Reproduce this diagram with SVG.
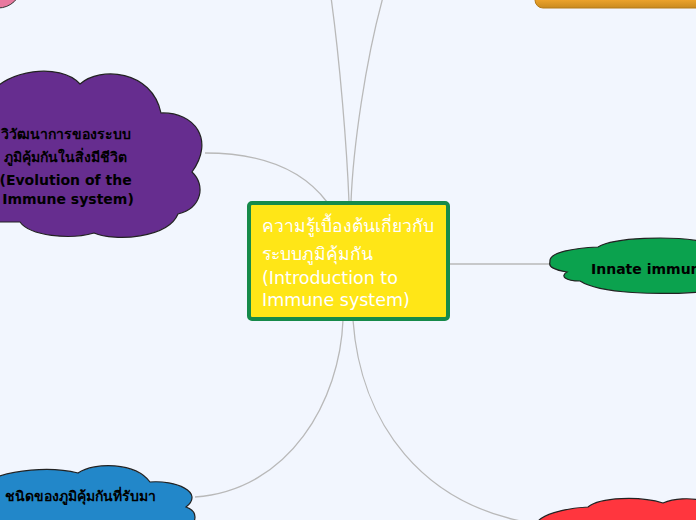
<svg xmlns="http://www.w3.org/2000/svg" width="696" height="520" viewBox="0 0 696 520">
<defs>
<style>
.bg{fill:#f2f6fe}
.conn{fill:none;stroke:#b9b9b9;stroke-width:1.3}
.cloud{stroke:#222;stroke-width:1.2}
.t{font-family:"DejaVu Sans","Noto Sans",sans-serif}
.b{font-weight:bold;font-size:14px;fill:#000}
.c{font-size:17.5px;fill:#fff}
</style>
<linearGradient id="og" x1="0" y1="0" x2="0" y2="1">
<stop offset="0" stop-color="#f6bd4c"/>
<stop offset="0.8" stop-color="#eaa12a"/>
<stop offset="1" stop-color="#c98a1e"/>
</linearGradient>
</defs>
<rect class="bg" x="0" y="0" width="696" height="520"/>
<g id="connectors">
<path class="conn" d="M349,202 C347,150 340,60 330,-10"/>
<path class="conn" d="M351,202 C353,150 365,60 385,-10"/>
<path class="conn" d="M205,153 Q290,153 327,202"/>
<path class="conn" d="M450,264 L549,264"/>
<path class="conn" d="M195,497 C290,490 340,400 343,320"/>
<path class="conn" d="M353,320 C360,420 420,510 545,525"/>
</g>
<g id="node-pink">
<ellipse cx="-2" cy="-14" rx="23" ry="22" fill="#e8799f" stroke="#333" stroke-width="1"/>
</g>
<g id="node-orange">
<rect x="535" y="-30" width="180" height="38" rx="8" fill="url(#og)" stroke="#b57a18" stroke-width="1"/>
</g>
<g id="node-evolution">
<path class="cloud" fill="#662d8f" d="M-10,95 C5,70 60,62 80,84 C100,66 152,70 161,113 C195,112 215,140 192,172 C206,185 202,208 178,214 C168,238 115,242 94,233 C70,240 30,236 20,222 L-10,222 Z"/>
<text class="t b" text-anchor="middle">
<tspan x="68" y="139">วิวัฒนาการของระบบ</tspan>
<tspan x="68" y="162">ภูมิคุ้มกันในสิ่งมีชีวิต</tspan>
<tspan x="68" y="185">(Evolution of the</tspan>
<tspan x="68" y="204">Immune system)</tspan>
</text>
</g>
<g id="node-central">
<rect x="249" y="203" width="199" height="116" rx="3" fill="#ffe617" stroke="#168a4a" stroke-width="4"/>
<text class="t c">
<tspan x="262" y="232">ความรู้เบื้องต้นเกี่ยวกับ</tspan>
<tspan x="262" y="260">ระบบภูมิคุ้มกัน</tspan>
<tspan x="262" y="284">(Introduction to</tspan>
<tspan x="262" y="306">Immune system)</tspan>
</text>
</g>
<g id="node-innate">
<path class="cloud" fill="#0ba24e" d="M550,262 C548,252 575,248 598,247 C615,237 670,236 700,241 L700,292 C660,295 600,294 580,281 C565,281 560,276 567,272 C555,270 548,267 550,262 Z"/>
<text class="t b" x="591" y="274">Innate immunity</text>
</g>
<g id="node-acquired">
<path class="cloud" fill="#2287c9" d="M-10,480 C10,470 50,466 78,473 C95,462 135,462 150,482 C175,480 205,492 186,507 C200,512 196,525 185,530 L-10,530 Z"/>
<text class="t b" x="80" y="501" text-anchor="middle">ชนิดของภูมิคุ้มกันที่รับมา</text>
</g>
<g id="node-red">
<path class="cloud" fill="#ff363e" d="M536,525 C538,515 565,508 588,507 C600,497 640,496 663,503 C675,498 690,498 700,500 L700,525 Z"/>
</g>
</svg>
